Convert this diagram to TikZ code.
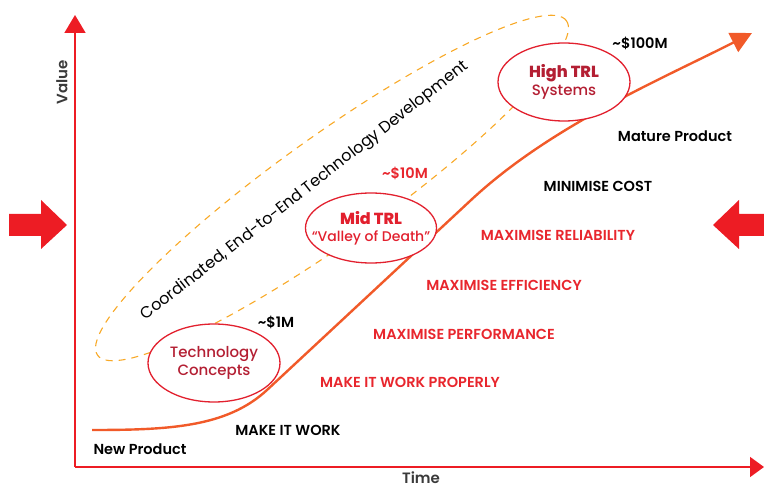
\documentclass[tikz,border=0pt]{standalone}
\usepackage{fontspec}
\setmainfont{Poppins}
\IfFontExistsTF{Poppins SemiBold}
  {\newfontfamily\semifont{Poppins SemiBold}}
  {\newfontfamily\semifont{Poppins}[FakeBold=1.2]}
\IfFontExistsTF{Poppins Medium}
  {\newfontfamily\medfont{Poppins Medium}}
  {\newfontfamily\medfont{Poppins}}
\usetikzlibrary{arrows.meta}

\definecolor{axisred}{HTML}{ED1C24}
\definecolor{curveorange}{HTML}{F15A29}
\definecolor{ovalred}{HTML}{E2202E}
\definecolor{darkred}{HTML}{B41F33}
\definecolor{labelred}{HTML}{E8262D}
\definecolor{dashorange}{HTML}{F8A927}
\definecolor{axisgray}{HTML}{3A3A3A}

\begin{document}
\begin{tikzpicture}[x=1pt, y=1pt,
  axis/.style={axisred, line width=1.8pt},
  curve/.style={curveorange, line width=2.4pt},
  oval/.style={draw=ovalred, line width=1.3pt, fill=white},
  trl/.style={align=center, inner sep=0pt, text=darkred,
    font=\fontsize{15}{18}\medfont},
  lbl/.style={font=\fontsize{14.5}{16}\semifont},
  redlbl/.style={lbl, text=labelred},
  axislbl/.style={axisgray, inner sep=0pt,
    font=\fontsize{15}{16}\semifont},
  bigarrow/.style={fill=axisred, draw=none}]

  \useasboundingbox (0,0) rectangle (764,488); %% page size

  %% axes
  \coordinate (O) at (75,21);
  \coordinate (ytop) at (75,473);
  \coordinate (xend) at (764,21);
  \draw[axis, -{Triangle[length=18pt, width=21pt]}] (O) -- (ytop);
  \draw[axis, -{Triangle[length=14pt, width=20pt]}] (O) -- (xend);
  \node[axislbl, rotate=90] (value) at (62,406) {Value};
  \node[axislbl] (time) at (421,10) {Time};

  %% side arrows
  \fill[bigarrow] (9,252) -- (41,252) -- (41,239) -- (67,263)
    -- (41,288) -- (41,274) -- (9,274) -- cycle;
  \fill[bigarrow] (764,252) -- (739,252) -- (739,239) -- (713,263)
    -- (739,288) -- (739,274) -- (764,274) -- cycle;

  %% dashed envelope
  \draw[dashorange, line width=1.1pt, dash pattern=on 7pt off 6pt,
    rotate around={35.5:(332,300)}] (332,300) ellipse (288 and 53);
  \node[rotate=38, font=\fontsize{16}{18}\selectfont] (coord)
    at (305,297) {Coordinated, End-to-End Technology Development};

  %% maturity curve
  \coordinate (np0) at (92,58);
  \coordinate (bend) at (267,98);
  \coordinate (steep) at (470,287);
  \coordinate (tip) at (752,455);
  \draw[curve, -{Triangle[length=21pt, width=21pt]}]
    (np0) .. controls (170,58) and (227,61) .. (bend) -- (steep)
    .. controls (550,362) and (662,409) .. (tip);

  %% TRL ovals
  \draw[oval] (214,125) ellipse (66 and 39);
  \draw[oval] (371,260) ellipse (65.5 and 35);
  \draw[oval] (564,406) ellipse (66 and 39);
  \node[trl] (tc) at (214,125) {Technology\\Concepts};
  \node[trl, text=ovalred, font=\fontsize{14}{17}\medfont] (mid)
    at (371,260) {{\fontsize{16}{18}\bfseries Mid TRL}\\“Valley of Death”};
  \node[trl] (high) at (564,406)
    {{\fontsize{16}{18}\bfseries High TRL}\\Systems};

  %% costs
  \node[lbl] (c1) at (276,166) {\textasciitilde\$1M};
  \node[redlbl] (c10) at (405,315) {\textasciitilde\$10M};
  \node[lbl] (c100) at (640,445) {\textasciitilde\$100M};

  %% stages
  \node[lbl] (np) at (140,39) {New Product};
  \node[lbl] (s1) at (288,58) {MAKE IT WORK};
  \node[redlbl] (s2) at (410,106) {MAKE IT WORK PROPERLY};
  \node[redlbl] (s3) at (464,154) {MAXIMISE PERFORMANCE};
  \node[redlbl] (s4) at (504,203) {MAXIMISE EFFICIENCY};
  \node[redlbl] (s5) at (558,253) {MAXIMISE RELIABILITY};
  \node[lbl] (s6) at (598,302) {MINIMISE COST};
  \node[lbl] (mp) at (675,352) {Mature Product};

\end{tikzpicture}
\end{document}
